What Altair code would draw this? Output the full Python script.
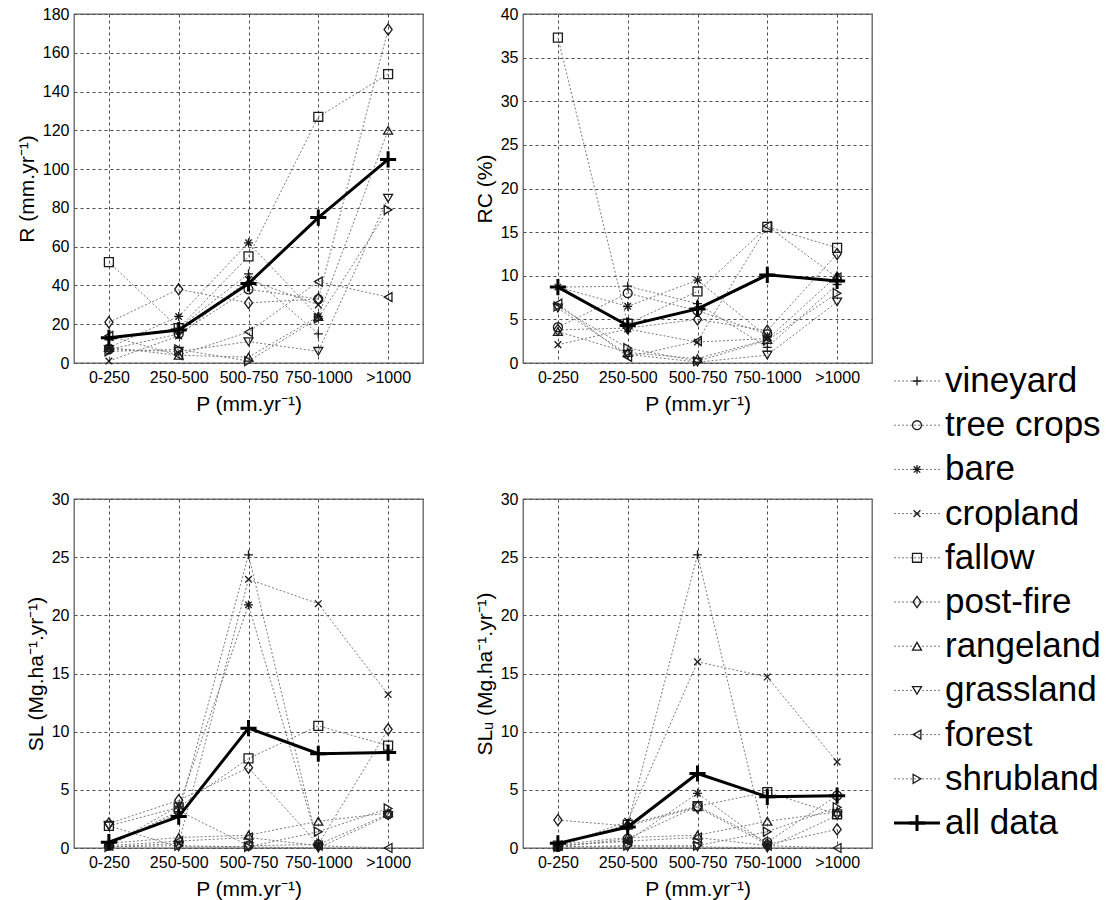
import altair as alt
import pandas as pd

FONT = "Liberation Sans"
CATS = ["0-250", "250-500", "500-750", "750-1000", ">1000"]
SERIES = ["vineyard", "tree crops", "bare", "cropland", "fallow", "post-fire",
          "rangeland", "grassland", "forest", "shrubland"]
ALL = "all data"

R_VALUES = {
    "vineyard":   [12, 18, 46, 15, None],
    "tree crops": [7, 15, 38, 33, None],
    "bare":       [8, 24, 62, 24, None],
    "cropland":   [1, 14, 43, 30, None],
    "fallow":     [52, 18, 55, 127, 149],
    "post-fire":  [21, 38, 31, 33, 172],
    "rangeland":  [8, 4, 3, 24, 120],
    "grassland":  [7, 6, 11, 6, 85],
    "forest":     [14, 4, 16, 42, 34],
    "shrubland":  [6, 7, 1, 23, 79],
    "all data":   [13, 17, 41, 75, 105],
}
RC_VALUES = {
    "vineyard":   [8.7, 8.8, 6.8, 1.8, 9.0],
    "tree crops": [4.1, 8.0, 6.0, 3.3, None],
    "bare":       [8.7, 6.5, 9.5, 3.0, None],
    "cropland":   [2.1, 3.9, 2.4, 2.8, None],
    "fallow":     [37.3, 4.5, 8.2, 15.6, 13.2],
    "post-fire":  [3.8, 4.0, 5.0, 3.7, 12.5],
    "rangeland":  [3.6, 1.2, 0.5, 2.7, 10.0],
    "grassland":  [6.3, 1.0, 0.1, 0.9, 7.0],
    "forest":     [6.8, 0.7, 2.5, 15.7, 9.8],
    "shrubland":  [6.5, 1.7, 0.2, 2.6, 8.0],
    "all data":   [8.7, 4.3, 6.2, 10.1, 9.4],
}
SL_VALUES = {
    "vineyard":   [0.3, 3.0, 25.2, 0.1, None],
    "tree crops": [0.2, 3.2, 0.2, 0.3, 2.9],
    "bare":       [0.2, 3.6, 20.9, 0.3, None],
    "cropland":   [0.1, 0.4, 23.1, 21.0, 13.2],
    "fallow":     [1.9, 3.5, 7.7, 10.5, 8.8],
    "post-fire":  [2.1, 4.1, 6.9, 0.3, 10.2],
    "rangeland":  [0.4, 0.9, 1.1, 2.3, 3.0],
    "grassland":  [1.9, 0.1, 0.1, 0.0, 2.8],
    "forest":     [0.2, 0.6, 0.9, 0.2, 0.0],
    "shrubland":  [0.1, 0.2, 0.1, 1.4, 3.4],
    "all data":   [0.5, 2.7, 10.3, 8.1, 8.2],
}
SLU_VALUES = {
    "vineyard":   [0.2, 2.0, 25.2, 0.1, None],
    "tree crops": [0.1, 0.8, 3.6, 0.5, 4.5],
    "bare":       [0.2, 0.6, 4.7, 0.3, None],
    "cropland":   [0.1, 2.3, 16.0, 14.7, 7.4],
    "fallow":     [0.2, 2.0, 3.6, 4.8, 2.9],
    "post-fire":  [2.4, 1.9, 3.5, 0.3, 1.6],
    "rangeland":  [0.3, 0.9, 1.1, 2.3, 3.1],
    "grassland":  [0.1, 0.1, 0.1, 0.0, 2.8],
    "forest":     [0.2, 0.6, 0.9, 0.2, 0.0],
    "shrubland":  [0.1, 0.2, 0.2, 1.4, 3.5],
    "all data":   [0.4, 1.8, 6.4, 4.4, 4.5],
}

PLUS = "M-1,0H1M0,-1V1"
STAR = "M-1,0H1M0,-1V1M-0.72,-0.72L0.72,0.72M-0.72,0.72L0.72,-0.72"
XMARK = "M-0.75,-0.75L0.75,0.75M-0.75,0.75L0.75,-0.75"
DIAMOND = "M0,-1.25L0.9,0L0,1.25L-0.9,0Z"
SHAPES = [PLUS, "circle", STAR, XMARK, "square", DIAMOND,
          "triangle-up", "triangle-down", "triangle-left", "triangle-right"]

LINE_GRAY = "#7a7a7a"
MARK_COL = "#1a1a1a"
MARK_SIZE = 80

shape_enc = alt.Shape("series:N", scale=alt.Scale(domain=SERIES, range=SHAPES), legend=None)


def long_df(vals):
    rows = []
    for s, arr in vals.items():
        for i, (c, v) in enumerate(zip(CATS, arr)):
            if v is not None:
                rows.append({"series": s, "P": c, "idx": i, "value": v})
    return pd.DataFrame(rows)


def panel(vals, ytitle, ymax, ystep):
    df = long_df(vals)
    x = alt.X("P:O", sort=CATS, scale=alt.Scale(type="point", padding=0.5),
              axis=alt.Axis(title="P (mm.yr⁻¹)", labelAngle=0))
    y = alt.Y("value:Q", scale=alt.Scale(domain=[0, ymax], nice=False),
              axis=alt.Axis(title=ytitle, values=list(range(0, ymax + 1, ystep))))
    base = alt.Chart(df)
    sub = base.transform_filter(alt.datum.series != ALL)
    lines = sub.mark_line(color=LINE_GRAY, strokeWidth=1, strokeDash=[2, 2]).encode(
        x=x, y=y, detail="series:N", order="idx:Q")
    pts = sub.mark_point(filled=False, color=MARK_COL, strokeWidth=1.3, opacity=1,
                         size=MARK_SIZE).encode(x=x, y=y, shape=shape_enc)
    main = base.transform_filter(alt.datum.series == ALL)
    mline = main.mark_line(color="black", strokeWidth=3).encode(x=x, y=y, order="idx:Q")
    mpts = main.mark_point(shape=PLUS, size=260, strokeWidth=3, color="black",
                           filled=False, opacity=1).encode(x=x, y=y)
    return alt.layer(lines, pts, mline, mpts).properties(width=349, height=349)


r_chart = panel(R_VALUES, "R (mm.yr⁻¹)", 180, 20)
rc_chart = panel(RC_VALUES, "RC (%)", 40, 5)
sl_chart = panel(SL_VALUES, "SL (Mg.ha⁻¹.yr⁻¹)", 30, 5)
slu_chart = panel(SLU_VALUES, "SLᵤ (Mg.ha⁻¹.yr⁻¹)", 30, 5)

# custom legend
leg_df = pd.DataFrame({"series": SERIES + [ALL]})
ly = alt.Y("series:N", sort=SERIES + [ALL],
           scale=alt.Scale(type="point", range=[367, 809], padding=0), axis=None)
leg_base = alt.Chart(leg_df)
leg_sub = leg_base.transform_filter(alt.datum.series != ALL)
leg_main = leg_base.transform_filter(alt.datum.series == ALL)
leg_rule = leg_sub.mark_rule(color=LINE_GRAY, strokeWidth=1, strokeDash=[2, 2]).encode(
    y=ly, x=alt.value(-78), x2=alt.value(-32))
leg_pts = leg_sub.mark_point(filled=False, color=MARK_COL, strokeWidth=1.3, opacity=1,
                             size=MARK_SIZE).encode(y=ly, x=alt.value(-55), shape=shape_enc)
leg_mrule = leg_main.mark_rule(color="black", strokeWidth=3).encode(
    y=ly, x=alt.value(-78), x2=alt.value(-32))
leg_mpts = leg_main.mark_point(shape=PLUS, size=260, strokeWidth=3, color="black",
                               filled=False, opacity=1).encode(y=ly, x=alt.value(-55))
leg_text = leg_base.mark_text(align="left", baseline="middle", fontSize=35, font=FONT,
                              color="black").encode(y=ly, x=alt.value(-27), text="series:N")
legend = alt.layer(leg_rule, leg_pts, leg_mrule, leg_mpts, leg_text).properties(
    width=135, height=349, view=alt.ViewBackground(stroke="transparent"))

chart = alt.concat(
    r_chart, rc_chart, legend, sl_chart, slu_chart,
    columns=3, spacing={"row": 136, "column": 100}, bounds="flush", align="each",
).properties(
    padding={"left": 15, "top": 5, "right": 5, "bottom": 3},
    background="white",
).configure_axis(
    labelFont=FONT, labelFontSize=16, labelColor="black",
    titleFont=FONT, titleFontSize=21, titleFontWeight="normal", titleColor="black",
    grid=True, gridColor="#4d4d4d", gridDash=[3, 3], gridOpacity=1, gridWidth=1,
    ticks=False, domain=False, labelPadding=5, titlePadding=5,
).configure_axisX(
    labelPadding=6, titlePadding=8,
).configure_view(
    stroke="#5e5e5e", strokeWidth=1.3,
)

chart.save("out.html", embed_options={"renderer": "svg", "actions": False})
